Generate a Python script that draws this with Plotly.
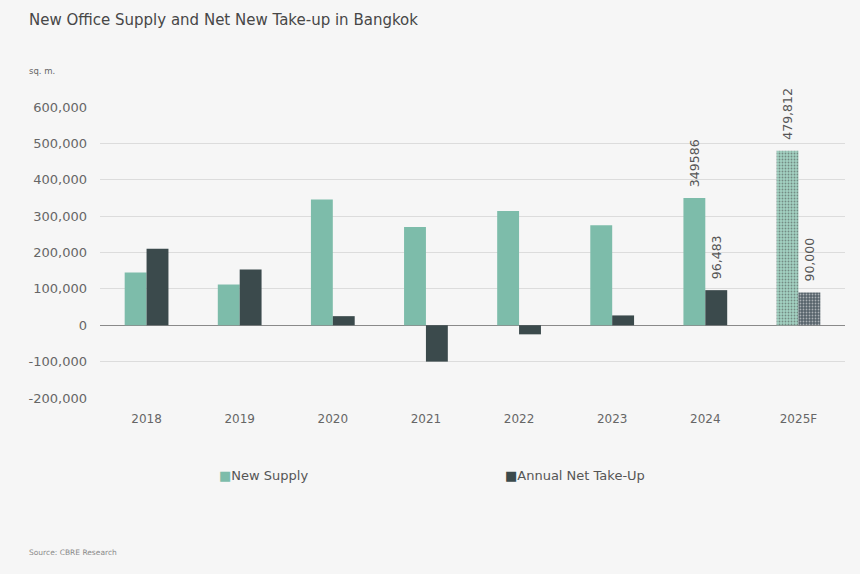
import plotly.graph_objects as go

years = ["2018", "2019", "2020", "2021", "2022", "2023", "2024", "2025F"]
new_supply = [145000, 112000, 346000, 270000, 314000, 275000, 349586, 479812]
net_takeup = [210000, 153000, 25000, -100000, -25000, 27000, 96483, 90000]
supply_labels = ["", "", "", "", "", "", "349586", "479,812"]
takeup_labels = ["", "", "", "", "", "", "96,483", "90,000"]
tick_vals = [-200000, -100000, 0, 100000, 200000, 300000, 400000, 500000, 600000]
tick_text = ["-200,000", "-100,000", "0", "100,000", "200,000", "300,000", "400,000", "500,000", "600,000"]

SUPPLY = "#7dbcaa"
TAKEUP = "#3b4a4c"
supply_color = [SUPPLY] * 7 + ["#a3d2c2"]
takeup_color = [TAKEUP] * 7 + ["#56626a"]
patterns = [""] * 7 + ["."]
FONT = "DejaVu Sans, sans-serif"
PAD = "\u00a0\u00a0"

fig = go.Figure()
fig.add_trace(go.Bar(
    x=years, y=new_supply, name="New Supply",
    marker=dict(color=supply_color, line=dict(width=0),
                pattern=dict(shape=patterns, fgcolor="#d8eee6", size=3, solidity=0.3)),
    text=[PAD + t if t else "" for t in supply_labels], textposition="outside", textangle=-90,
    textfont=dict(size=12.5, color="#555555", family=FONT), cliponaxis=False,
))
fig.add_trace(go.Bar(
    x=years, y=net_takeup, name="Annual Net Take-Up",
    marker=dict(color=takeup_color, line=dict(width=0),
                pattern=dict(shape=patterns, fgcolor="#a3abae", size=3, solidity=0.3)),
    text=[PAD + t if t else "" for t in takeup_labels], textposition="outside", textangle=-90,
    textfont=dict(size=12.5, color="#555555", family=FONT), cliponaxis=False,
))

fig.update_layout(
    width=860, height=574,
    paper_bgcolor="#f6f6f6", plot_bgcolor="#f6f6f6",
    font=dict(family=FONT, color="#666666", size=12),
    margin=dict(l=100, r=15, t=107, b=176, autoexpand=False),
    barmode="group", bargap=0.53, bargroupgap=0.0,
    uniformtext=dict(minsize=12, mode="show"),
    showlegend=False,
    annotations=[
        dict(text="New Office Supply and Net New Take-up in Bangkok", xref="paper", yref="paper",
             x=-73/745, y=(398 - 20) / 291, xanchor="left", yanchor="middle", showarrow=False,
             font=dict(size=15, color="#474747", family=FONT)),
        dict(text="sq. m.", xref="paper", yref="paper", x=-73/745, y=(398 - 71) / 291,
             xanchor="left", yanchor="middle", showarrow=False,
             font=dict(size=8.5, color="#666666", family=FONT)),
        dict(text="Source: CBRE Research", xref="paper", yref="paper", x=-73/745, y=(398 - 552) / 291,
             xanchor="left", yanchor="middle", showarrow=False,
             font=dict(size=7.5, color="#8a8a8a", family=FONT)),
        dict(text=f"<span style='color:{SUPPLY}'>■</span>New Supply", xref="paper", yref="paper",
             x=(217 - 100) / 745, y=(398 - 475) / 291, xanchor="left", yanchor="middle",
             showarrow=False, font=dict(size=13, color="#555555", family=FONT)),
        dict(text=f"<span style='color:{TAKEUP}'>■</span>Annual Net Take-Up", xref="paper", yref="paper",
             x=(503 - 100) / 745, y=(398 - 475) / 291, xanchor="left", yanchor="middle",
             showarrow=False, font=dict(size=13, color="#555555", family=FONT)),
    ],
)
fig.update_xaxes(showgrid=False, showline=False, ticks="", ticklabelstandoff=12,
                 tickfont=dict(size=12, color="#666666"))
fig.update_yaxes(range=[-200000, 600000], tickvals=tick_vals, ticktext=tick_text,
                 showgrid=True, gridcolor="#dcdcdc", gridwidth=1,
                 zeroline=True, zerolinecolor="#8a8a8a", zerolinewidth=1, ticklabelstandoff=12,
                 tickfont=dict(size=13, color="#666666"), ticks="", ticklen=0)

fig.write_html("out.html", config={"displayModeBar": False},
               post_script="document.body.style.margin='0';")
